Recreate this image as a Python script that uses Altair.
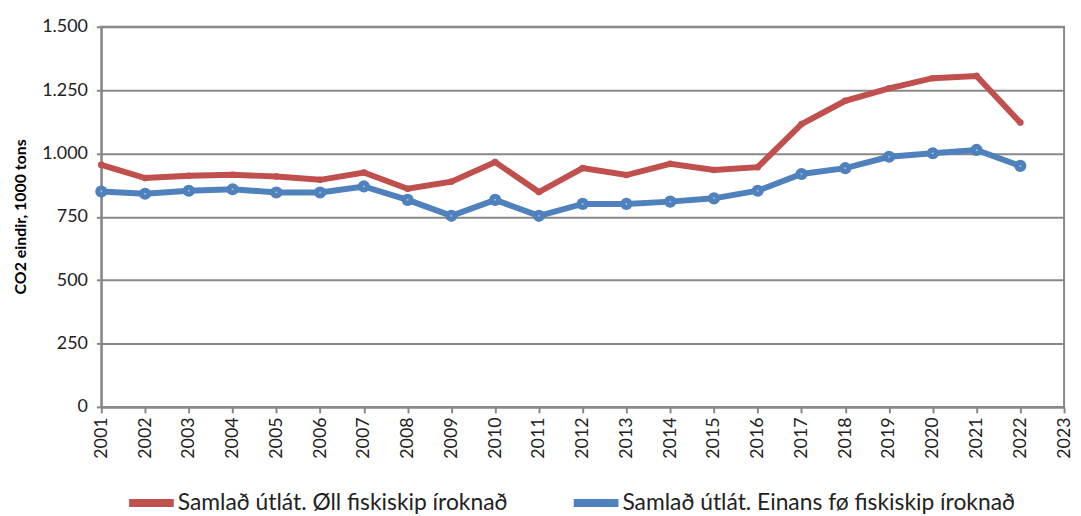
import altair as alt
import pandas as pd

years = list(range(2001, 2023))
series_names = ["Samlað útlát. Øll fiskiskip íroknað", "Samlað útlát. Einans fø fiskiskip íroknað"]
all_ships = [955, 903, 912, 916, 909, 896, 925, 861, 889, 966, 848,
             942, 915, 959, 935, 946, 1116, 1208, 1257, 1297, 1306, 1122]
faroese_ships = [850, 841, 853, 859, 846, 846, 870, 817, 754, 817, 754,
                 801, 801, 810, 823, 853, 919, 942, 987, 1001, 1014, 951]
x_ticks = list(range(2001, 2024))
y_ticks = [0, 250, 500, 750, 1000, 1250, 1500]
colors = ["#C0504D", "#4F81BD"]

rows = []
for y, v in zip(years, all_ships):
    rows.append({"year": y, "value": v, "series": series_names[0]})
for y, v in zip(years, faroese_ships):
    rows.append({"year": y, "value": v, "series": series_names[1]})
df = pd.DataFrame(rows)

FONT = "Lato"
color_scale = alt.Scale(domain=series_names, range=colors)

x_enc = alt.X("year:Q",
              scale=alt.Scale(domain=[2001, 2023], nice=False, zero=False),
              axis=alt.Axis(values=x_ticks, format="d", labelAngle=270, title=None,
                            grid=False, tickSize=6, tickColor="#888888", tickWidth=2,
                            domainColor="#888888", domainWidth=2,
                            labelFontSize=18, labelFont=FONT, labelColor="#222222",
                            labelPadding=4))
y_enc = alt.Y("value:Q",
              scale=alt.Scale(domain=[0, 1500], nice=False),
              axis=alt.Axis(values=y_ticks,
                            labelExpr="replace(format(datum.value, ','), ',', '.')",
                            title="CO2  eindir, 1000 tons", titleFont=FONT, titleFontSize=16,
                            titleFontWeight="bold", titleColor="#000000",
                            titleX=-81, titleY=191, titleAngle=270,
                            titleAlign="center", titleBaseline="middle",
                            grid=True, gridColor="#888888", gridWidth=2,
                            tickSize=5, tickColor="#888888", tickWidth=2,
                            domainColor="#888888", domainWidth=2,
                            labelFontSize=18, labelFont=FONT, labelColor="#222222",
                            labelPadding=9))
color_enc = alt.Color("series:N", scale=color_scale,
                      legend=alt.Legend(title=None, orient="none", legendX=24, legendY=453,
                                        direction="horizontal", symbolType="stroke",
                                        symbolStrokeWidth=8, symbolSize=2025,
                                        labelFont=FONT, labelFontSize=23, labelColor="#222222",
                                        labelLimit=0, labelOffset=0, columnPadding=50))

base = alt.Chart(df)
lines = base.mark_line(strokeWidth=6).encode(x=x_enc, y=y_enc, color=color_enc)
pts_red = base.transform_filter(alt.datum.series == series_names[0]).mark_point(
    filled=True, opacity=1, size=45, color=colors[0]).encode(x="year:Q", y="value:Q")
pts_blue = base.transform_filter(alt.datum.series == series_names[1]).mark_point(
    filled=True, opacity=1, size=150, color=colors[1]).encode(x="year:Q", y="value:Q")
dots_blue = base.transform_filter(alt.datum.series == series_names[1]).mark_point(
    filled=True, opacity=0.6, size=4, color="#dbe5f1").encode(x="year:Q", y="value:Q")

chart = alt.layer(lines, pts_red, pts_blue, dots_blue).properties(
    width=970, height=383,
    autosize=alt.AutoSizeParams(type="none"),
    padding={"left": 94, "top": 17, "right": 9, "bottom": 108},
).configure_view(stroke="#888888", strokeWidth=2)

chart.save("out.html", embed_options={"renderer": "svg", "actions": False})
